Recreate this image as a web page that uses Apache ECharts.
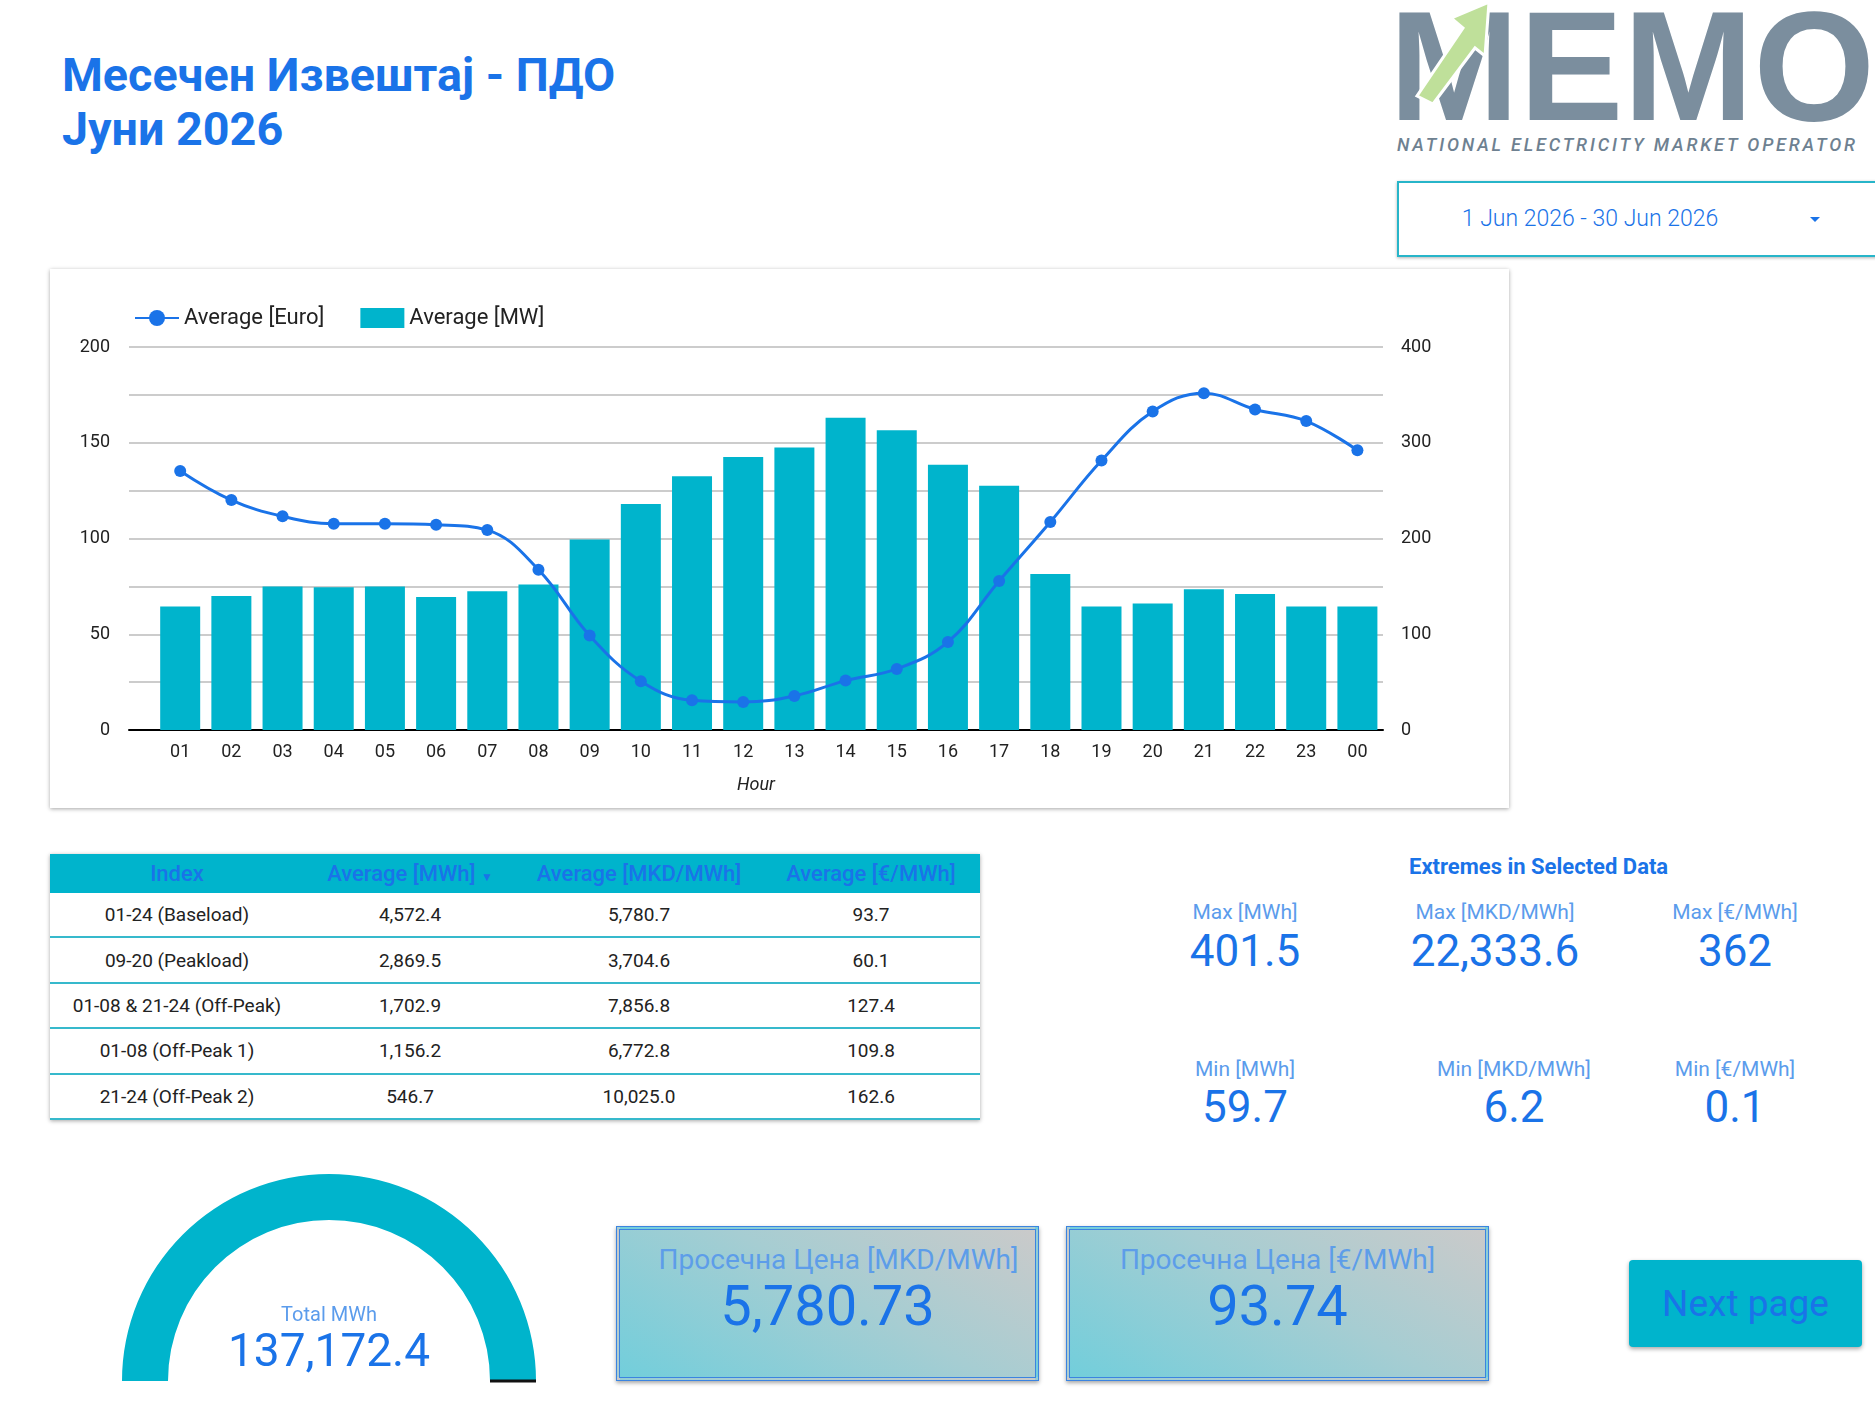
<!DOCTYPE html>
<html>
<head>
<meta charset="utf-8">
<title>Месечен Извештај - ПДО</title>
<script src="https://cdn.jsdelivr.net/npm/echarts@6/dist/echarts.min.js"></script>
<style>
  body { margin: 0; width: 1875px; height: 1407px; background: #fff; position: relative; overflow: hidden;
         font-family: Roboto, 'Noto Sans', sans-serif; }
  .abs { position: absolute; }
  .title { left: 62px; font-size: 46.7px; font-weight: 700; color: #1a73e8; line-height: 47px; white-space: nowrap; }
  .card { background: #fff; box-shadow: 0 1px 4px rgba(0,0,0,0.35); }
  .ctr { text-align: center; white-space: nowrap; }
  .lbl { font-size: 21px; line-height: 24px; color: #5b9cec; }
  .val { font-size: 44px; line-height: 48px; color: #1a73e8; }
  table { border-collapse: collapse; table-layout: fixed; width: 930px; }
  th { background: #00b4cc; color: #1a73e8; font-size: 22px; font-weight: 500; height: 39px; padding: 0; }
  td { font-size: 19px; color: #222; text-align: center; height: 43.4px; padding: 0; border-bottom: 2px solid #36b9cc; }
  .kpi { border: 4px double #3b84e0; background: linear-gradient(30deg, #72cedb 0%, #a6cdd2 55%, #cacaca 100%);
         box-shadow: 0 2px 4px rgba(0,0,0,0.35); box-sizing: border-box; }
  .kpi .t { position: absolute; left: 0; right: 0; top: 15px; font-size: 28px; line-height: 30px; color: #5d9de9; }
  .kpi .v { position: absolute; left: 0; right: 0; top: 45px; font-size: 56px; line-height: 62px; color: #1a73e8; }
</style>
</head>
<body>
<div class="abs title" style="top:52px;">Месечен Извештај - ПДО</div>
<div class="abs title" style="top:106px;">Јуни 2026</div>

<svg class="abs" style="left:1395px; top:0px;" width="480" height="160">
  <text x="-6" y="120" font-family="Liberation Sans" font-weight="700" font-size="156" fill="#7b8e9e"
        textLength="486" lengthAdjust="spacingAndGlyphs">MEMO</text>
  <polygon points="22,96 38,104 80,48 90,56 94,2 56,18 68,28" fill="#bfe09a" stroke="#fff" stroke-width="3"/>
  <text x="2" y="151" font-family="Roboto" font-style="italic" font-weight="500" font-size="18" fill="#6e8191"
        textLength="458" lengthAdjust="spacing">NATIONAL ELECTRICITY MARKET OPERATOR</text>
</svg>

<div class="abs" style="left:1397px; top:181px; width:490px; height:76px; box-sizing:border-box; border:2px solid #27b5c9; box-shadow:0 1px 3px rgba(0,0,0,0.3); background:#fff;"></div>
<div class="abs ctr" style="left:1440px; top:206px; width:300px; font-size:23px; font-weight:300; line-height:26px; color:#1a73e8;">1 Jun 2026 - 30 Jun 2026</div>
<div class="abs" style="left:1810px; top:217px; width:0; height:0; border-left:5px solid transparent; border-right:5px solid transparent; border-top:5px solid #1a73e8;"></div>

<div class="abs card" style="left:50px; top:269px; width:1459px; height:539px;">
  <div id="chart" style="width:1459px; height:539px;"></div>
</div>

<div class="abs card" style="left:50px; top:854px; width:930px;">
  <table id="tbl"></table>
</div>

<div class="abs" style="left:1409px; top:854px; font-size:22px; font-weight:700; color:#1a73e8; line-height:26px; white-space:nowrap;">Extremes in Selected Data</div>
<div id="extremes"></div>

<div class="abs" id="gauge" style="left:100px; top:1150px; width:460px; height:257px;"></div>

<div class="abs kpi" style="left:616px; top:1226px; width:423px; height:155px;">
  <div class="t ctr" style="left:22px;">Просечна Цена [MKD/MWh]</div><div class="v ctr" id="kpiMKD"></div>
</div>
<div class="abs kpi" style="left:1066px; top:1226px; width:423px; height:155px;">
  <div class="t ctr">Просечна Цена [€/MWh]</div><div class="v ctr" id="kpiEUR"></div>
</div>

<div class="abs ctr" style="left:1629px; top:1260px; width:233px; height:87px; background:#00b4cc; border-radius:4px; box-shadow:0 2px 4px rgba(0,0,0,0.35); font-size:37px; line-height:87px; color:#1a73e8;">Next page</div>

<script>
// hourly averages for the month
var hours = ['01', '02', '03', '04', '05', '06', '07', '08', '09', '10', '11', '12',
             '13', '14', '15', '16', '17', '18', '19', '20', '21', '22', '23', '00'];
var avgMW = [129, 140, 150, 149, 150, 139, 145, 152, 199, 236, 265, 285,
             295, 326, 313, 277, 255, 163, 129, 132, 147, 142, 129, 129];
var avgEuro = [135.3, 120.1, 111.6, 107.7, 107.7, 107.2, 104.4, 83.7, 49.3, 25.5, 15.5, 14.6,
               17.8, 25.8, 31.9, 46.0, 77.8, 108.6, 140.7, 166.3, 175.9, 167.4, 161.3, 146.1];
var leftTicks = [0, 50, 100, 150, 200];
var rightTicks = [0, 100, 200, 300, 400];

// index table
var tableHeaders = ['Index', 'Average [MWh]', 'Average [MKD/MWh]', 'Average [€/MWh]'];
var indexNames = ['01-24 (Baseload)', '09-20 (Peakload)', '01-08 & 21-24 (Off-Peak)', '01-08 (Off-Peak 1)', '21-24 (Off-Peak 2)'];
var idxMWh = [4572.4, 2869.5, 1702.9, 1156.2, 546.7];
var idxMKD = [5780.7, 3704.6, 7856.8, 6772.8, 10025.0];
var idxEUR = [93.7, 60.1, 127.4, 109.8, 162.6];

// extremes
var maxLabels = ['Max [MWh]', 'Max [MKD/MWh]', 'Max [€/MWh]'];
var maxValues = ['401.5', '22,333.6', '362'];
var minLabels = ['Min [MWh]', 'Min [MKD/MWh]', 'Min [€/MWh]'];
var minValues = ['59.7', '6.2', '0.1'];

// scorecards
var totalMWh = 137172.4;
var avgPriceMKD = 5780.73;
var avgPriceEUR = 93.74;

function fmt(v, d) {
    return v.toLocaleString('en-US', {minimumFractionDigits: d, maximumFractionDigits: d});
}

// table
var html = '<colgroup><col style="width:254px"><col style="width:212px"><col style="width:246px"><col style="width:218px"></colgroup><tr>';
tableHeaders.forEach(function (h, i) {
    html += '<th>' + h + (i === 1 ? ' <span style="font-size:12px;">&#9660;</span>' : '') + '</th>';
});
html += '</tr>';
for (var i = 0; i < indexNames.length; i++) {
    html += '<tr><td>' + indexNames[i].replace('&', '&amp;') + '</td><td>' + fmt(idxMWh[i], 1) +
            '</td><td>' + fmt(idxMKD[i], 1) + '</td><td>' + fmt(idxEUR[i], 1) + '</td></tr>';
}
document.getElementById('tbl').innerHTML = html;

// extremes block
var maxCx = [1245, 1495, 1735], minCx = [1245, 1514, 1735];
var ex = '';
for (var k = 0; k < 3; k++) {
    ex += '<div class="abs ctr lbl" style="left:' + (maxCx[k] - 120) + 'px;top:900px;width:240px;">' + maxLabels[k] + '</div>';
    ex += '<div class="abs ctr val" style="left:' + (maxCx[k] - 120) + 'px;top:927px;width:240px;">' + maxValues[k] + '</div>';
    ex += '<div class="abs ctr lbl" style="left:' + (minCx[k] - 120) + 'px;top:1057px;width:240px;">' + minLabels[k] + '</div>';
    ex += '<div class="abs ctr val" style="left:' + (minCx[k] - 120) + 'px;top:1083px;width:240px;">' + minValues[k] + '</div>';
}
document.getElementById('extremes').innerHTML = ex;

document.getElementById('kpiMKD').textContent = fmt(avgPriceMKD, 2);
document.getElementById('kpiEUR').textContent = fmt(avgPriceEUR, 2);

// combo chart (hour index on a value axis so the grid keeps a little room on the left)
var barData = avgMW.map(function (v, i) { return [i, v]; });
var lineData = avgEuro.map(function (v, i) { return [i, v]; });

var chart = echarts.init(document.getElementById('chart'));
chart.setOption({
    animation: false,
    textStyle: {fontFamily: 'Roboto'},
    legend: {
        left: 79, top: 33, itemWidth: 44, itemHeight: 20, itemGap: 36,
        textStyle: {fontSize: 22, color: '#222'},
        data: [{name: 'Average [Euro]'}, {name: 'Average [MW]', icon: 'rect'}]
    },
    grid: {left: 79, right: 126, top: 78, bottom: 78},
    xAxis: {
        type: 'value', min: -1, max: 23.5, interval: 1,
        axisLine: {show: true, onZero: false, lineStyle: {color: '#000', width: 2}},
        axisTick: {show: false},
        splitLine: {show: false},
        axisLabel: {fontSize: 18, color: '#222', margin: 13,
            formatter: function (v) { return hours[v] || ''; }},
        name: 'Hour', nameLocation: 'middle', nameGap: 46,
        nameTextStyle: {fontStyle: 'italic', fontSize: 18, color: '#222'}
    },
    yAxis: [
        {
            type: 'value', min: 0, max: 200, interval: 25,
            axisLine: {show: false}, axisTick: {show: false},
            axisLabel: {fontSize: 18, color: '#222', margin: 19,
                formatter: function (v) { return leftTicks.indexOf(v) >= 0 ? v : ''; }},
            splitLine: {lineStyle: {color: '#cccccc', width: 2}}
        },
        {
            type: 'value', min: 0, max: 400, interval: 50,
            axisLine: {show: false}, axisTick: {show: false},
            axisLabel: {fontSize: 18, color: '#222', margin: 18,
                formatter: function (v) { return rightTicks.indexOf(v) >= 0 ? v : ''; }},
            splitLine: {show: false}
        }
    ],
    series: [
        {
            name: 'Average [MW]', type: 'bar', yAxisIndex: 1, data: barData,
            barWidth: 40, itemStyle: {color: '#00b4cc'}
        },
        {
            name: 'Average [Euro]', type: 'line', yAxisIndex: 0, data: lineData,
            smooth: 0.4, symbol: 'circle', symbolSize: 12, z: 3,
            itemStyle: {color: '#1a73e8'}, lineStyle: {width: 3, color: '#1a73e8'}
        }
    ]
});

// total gauge
var gauge = echarts.init(document.getElementById('gauge'));
gauge.setOption({
    animation: false,
    series: [{
        type: 'gauge', center: [229, 231], radius: 207,
        startAngle: 180, endAngle: 0, min: 0, max: totalMWh,
        axisLine: {lineStyle: {width: 46, color: [[1, '#00b4cc']]}},
        axisTick: {show: false}, splitLine: {show: false}, axisLabel: {show: false},
        anchor: {show: false},
        pointer: {show: true, icon: 'rect', length: 46, width: 3, offsetCenter: [0, -161], itemStyle: {color: '#111'}},
        title: {offsetCenter: [0, -65], fontSize: 20, color: '#5b9cec', fontFamily: 'Roboto'},
        detail: {offsetCenter: [0, -27], fontSize: 46, fontWeight: 'normal', color: '#1a73e8', fontFamily: 'Roboto',
            formatter: function (v) { return fmt(v, 1); }},
        data: [{value: totalMWh, name: 'Total MWh'}]
    }]
});
</script>
</body>
</html>
